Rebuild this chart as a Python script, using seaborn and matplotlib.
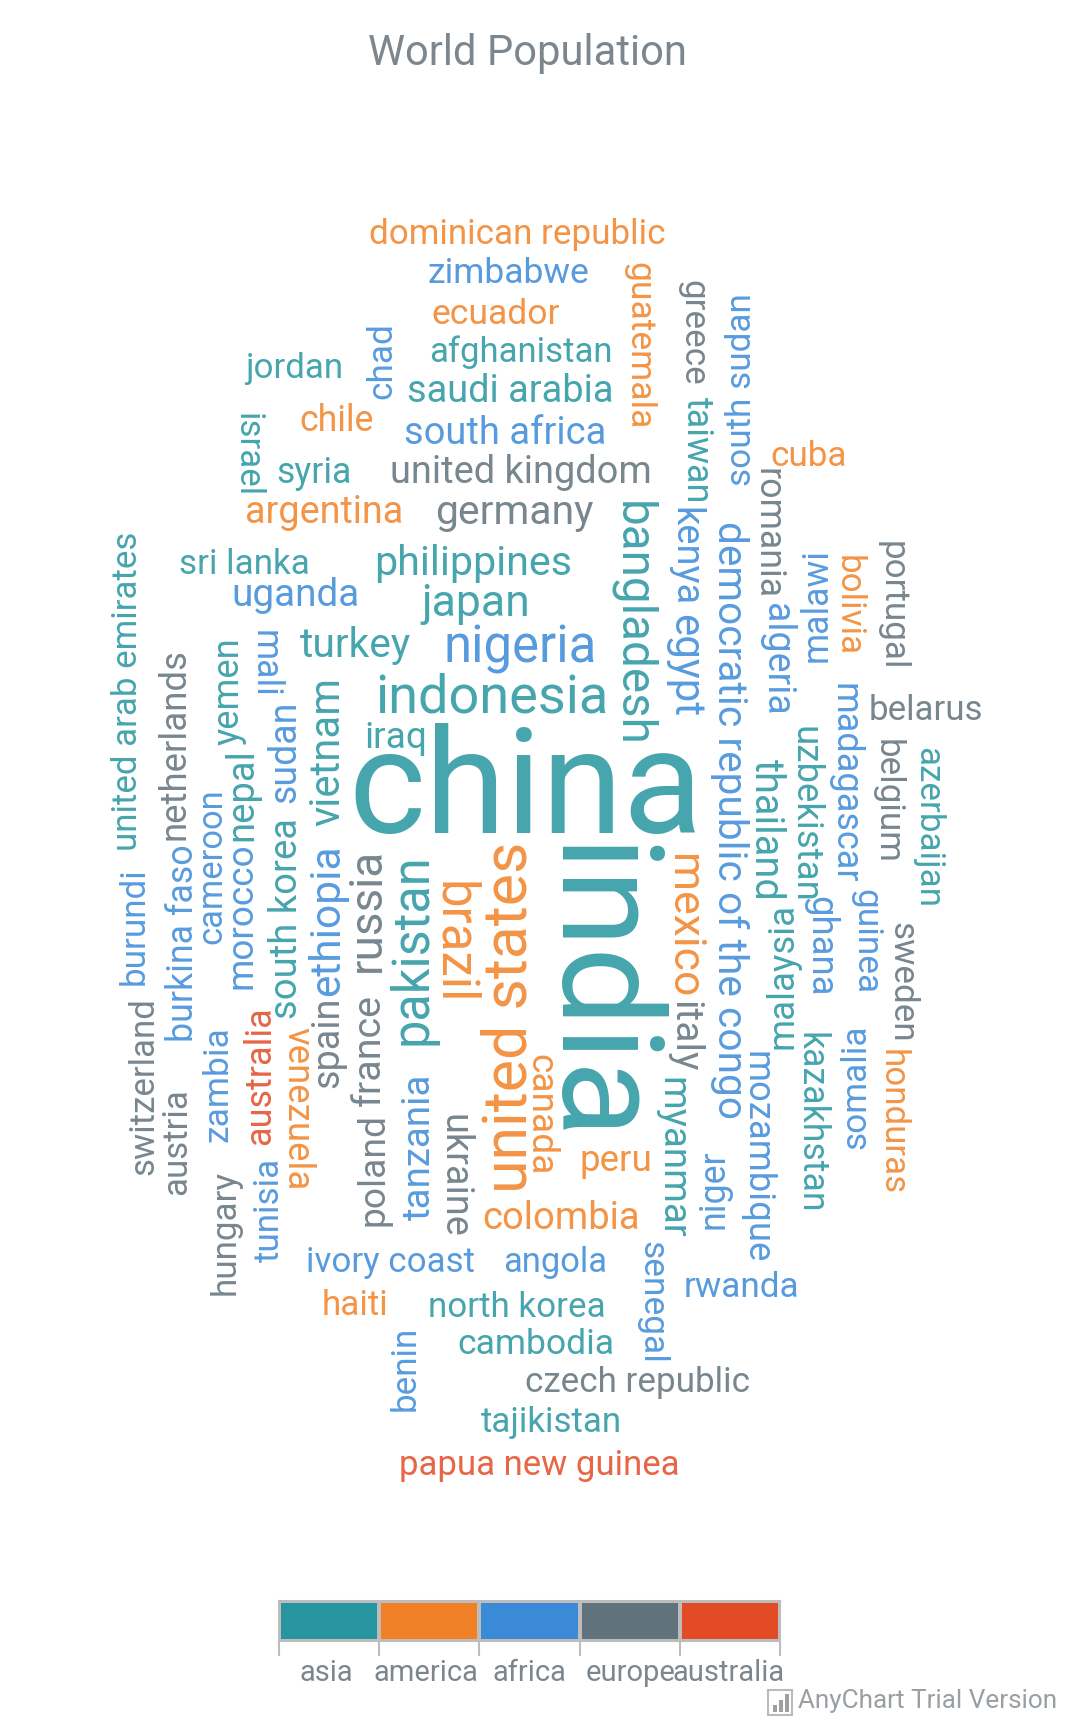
import matplotlib
matplotlib.use("Agg")
import matplotlib.pyplot as plt
from matplotlib.colors import ListedColormap
from matplotlib.patches import Rectangle
import numpy as np
import seaborn as sns

# population in millions per continent, estimated from the word sizes
asia = {"china": 1380, "india": 1305, "indonesia": 244, "pakistan": 200, "bangladesh": 165,
        "japan": 127, "philippines": 87, "vietnam": 95, "turkey": 80, "thailand": 68,
        "myanmar": 53, "south korea": 51, "iraq": 37, "saudi arabia": 47, "afghanistan": 8,
        "uzbekistan": 31, "malaysia": 31, "nepal": 50, "yemen": 27, "north korea": 11,
        "taiwan": 23, "sri lanka": 10, "syria": 18, "kazakhstan": 18, "cambodia": 16,
        "azerbaijan": 10, "jordan": 9.5, "united arab emirates": 9, "tajikistan": 8.7,
        "israel": 8.5}
america = {"united states": 325, "brazil": 205, "mexico": 129, "colombia": 48, "argentina": 44,
           "canada": 36, "peru": 32, "venezuela": 31, "chile": 18, "guatemala": 16,
           "ecuador": 16, "cuba": 11, "bolivia": 11, "haiti": 11, "dominican republic": 10,
           "honduras": 9}
africa = {"nigeria": 204, "ethiopia": 102, "egypt": 96, "democratic republic of the congo": 79,
          "south africa": 48, "tanzania": 55, "kenya": 48, "algeria": 41, "sudan": 41,
          "uganda": 57, "morocco": 35, "angola": 5, "ghana": 28, "mozambique": 28,
          "madagascar": 24, "cameroon": 5, "ivory coast": 9, "niger": 20, "burkina faso": 19,
          "malawi": 18, "mali": 18, "zambia": 16, "zimbabwe": 16, "senegal": 15, "chad": 14,
          "somalia": 14, "guinea": 13, "south sudan": 12, "rwanda": 12, "tunisia": 11,
          "benin": 11, "burundi": 11}
europe = {"russia": 143, "germany": 82, "united kingdom": 47, "france": 65, "italy": 59,
          "spain": 46, "ukraine": 45, "poland": 38, "romania": 19, "netherlands": 30,
          "belgium": 11, "greece": 11, "czech republic": 10.5, "portugal": 10, "sweden": 10,
          "hungary": 10, "belarus": 9.5, "austria": 8.7, "switzerland": 8.4}
australia = {"australia": 24, "papua new guinea": 8}

continents = ["asia", "america", "africa", "europe", "australia"]
colors = ["#26959f", "#f18126", "#3b8ad8", "#60727b", "#e24b26"]
groups = [asia, america, africa, europe, australia]

# where the cloud put each word: centre x, centre y, rotation
layout = {
    "dominican republic": (469, 213, 0), "zimbabwe": (461, 248, 0), "ecuador": (449, 285, 0),
    "afghanistan": (472, 319, 0), "jordan": (267, 334, 0), "saudi arabia": (463, 355, 0),
    "chile": (305, 382, 0), "south africa": (458, 393, 0), "syria": (285, 429, 0),
    "united kingdom": (472, 428, 0), "cuba": (733, 414, 0), "argentina": (294, 465, 0),
    "germany": (466, 465, 0), "sri lanka": (222, 512, 0), "philippines": (429, 511, 0),
    "uganda": (268, 540, 0), "japan": (431, 548, 0), "turkey": (322, 585, 0),
    "nigeria": (472, 588, 0), "indonesia": (446, 633, 0), "belarus": (839, 644, 0),
    "iraq": (359, 669, 0), "china": (477, 719, 0), "peru": (558, 1053, 0),
    "colombia": (509, 1105, 0), "ivory coast": (354, 1145, 0), "angola": (503, 1145, 0),
    "rwanda": (672, 1167, 0), "haiti": (322, 1184, 0), "north korea": (469, 1185, 0),
    "cambodia": (486, 1219, 0), "czech republic": (578, 1253, 0), "tajikistan": (500, 1290, 0),
    "papua new guinea": (489, 1329, 0),
    "guatemala": (579, 313, -90), "greece": (628, 302, -90), "south sudan": (672, 353, 90),
    "taiwan": (632, 408, -90), "kenya": (621, 505, -90), "egypt": (621, 603, -90),
    "democratic republic of the congo": (661, 743, -90), "romania": (696, 484, -90),
    "algeria": (704, 598, -90), "malawi": (740, 549, 90), "bolivia": (769, 549, -90),
    "portugal": (809, 549, -90), "bangladesh": (573, 566, -90), "madagascar": (766, 710, -90),
    "thailand": (695, 752, -90), "uzbekistan": (729, 738, -90), "belgium": (804, 727, -90),
    "azerbaijan": (841, 750, -90), "guinea": (785, 854, -90), "ghana": (744, 858, -90),
    "sweden": (818, 891, -90), "malaysia": (709, 885, 90), "mexico": (619, 840, -90),
    "italy": (620, 940, -90), "myanmar": (609, 1050, -90), "mozambique": (686, 1049, -90),
    "kazakhstan": (735, 1018, -90), "honduras": (809, 1017, -90), "somalia": (776, 985, 90),
    "india": (536, 902, -90), "canada": (490, 1011, -90), "niger": (647, 1078, 90),
    "senegal": (591, 1181, -90), "venezuela": (270, 1005, -90), "brazil": (411, 855, -90),
    "ukraine": (412, 1066, -90), "israel": (224, 413, -90), "mali": (240, 602, -90),
    "united arab emirates": (116, 627, 90), "switzerland": (130, 985, 90), "burundi": (122, 840, 90),
    "netherlands": (158, 675, 90), "austria": (160, 1035, 90), "burkina faso": (166, 855, 90),
    "cameroon": (192, 785, 90), "yemen": (207, 627, 90), "zambia": (198, 983, 90),
    "nepal": (219, 720, 90), "morocco": (219, 830, 90), "sudan": (258, 682, 90),
    "south korea": (260, 833, 90), "vietnam": (297, 681, 90), "ethiopia": (297, 834, 90),
    "spain": (297, 945, 90), "russia": (333, 825, 90), "france": (335, 952, 90),
    "poland": (339, 1060, 90), "pakistan": (374, 861, 90), "united states": (462, 922, 90),
    "iran": (417, 966, 90), "tanzania": (380, 1040, 90), "hungary": (204, 1117, 90),
    "australia": (236, 975, 90), "tunisia": (244, 1097, 90), "chad": (346, 327, 90),
    "benin": (367, 1241, 90),
}
SCALE = 1.103  # layout was read on a picture a bit smaller than the output
label_x = [326, 426, 529, 631, 729]

sns.set_theme(style="white")
plt.rcParams["font.family"] = ["Roboto", "DejaVu Sans"]

fig = plt.figure(figsize=(10.8, 17.31), dpi=100)
ax = fig.add_axes([0, 0, 1, 1])
ax.set_xlim(0, 1080)
ax.set_ylim(1731, 0)
ax.axis("off")

for group, color in zip(groups, colors):
    for word, value in group.items():
        x, y, rot = layout[word]
        px = (33 + 109 * value / 1380) * 1.035
        ax.text(x * SCALE, y * SCALE, word, fontsize=px * 0.72, color=color, alpha=0.85,
                rotation=rot, ha="center", va="center")

ax.text(527, 53, "World Population", fontsize=30.1, color="#7c868e", ha="center", va="center")

# legend is a one row heatmap
leg = fig.add_axes([279 / 1080, 1 - 1642 / 1731, 501 / 1080, 40 / 1731])
sns.heatmap(np.arange(5)[None, :], cmap=ListedColormap(colors), cbar=False, ax=leg,
            linewidths=1.5, linecolor="#bdbdbd", square=False)
leg.set_xticks(range(6))
leg.set_xticklabels([])
leg.set_yticks([])
leg.tick_params(axis="x", length=10.5, width=1.5, color="#bdbdbd", bottom=True)
for spine in leg.spines.values():
    spine.set_visible(True)
    spine.set_color("#bdbdbd")
    spine.set_linewidth(1.5)
for name, lx in zip(continents, label_x):
    ax.text(lx, 1673, name, fontsize=21, color="#7c868e", ha="center", va="center")

# trial watermark
ax.add_patch(Rectangle((768, 1691), 24, 25, fc="white", ec="#bbbbbb", lw=1.5))
for bx, bh in zip([773, 779, 785], [7, 12, 18]):
    ax.add_patch(Rectangle((bx, 1713 - bh), 4, bh, fc="#a0a0a0", ec="none"))
ax.text(798, 1701, "AnyChart Trial Version", fontsize=18.8, color="#9a9fa3", ha="left", va="center")

fig.savefig("out.png", dpi=100)
